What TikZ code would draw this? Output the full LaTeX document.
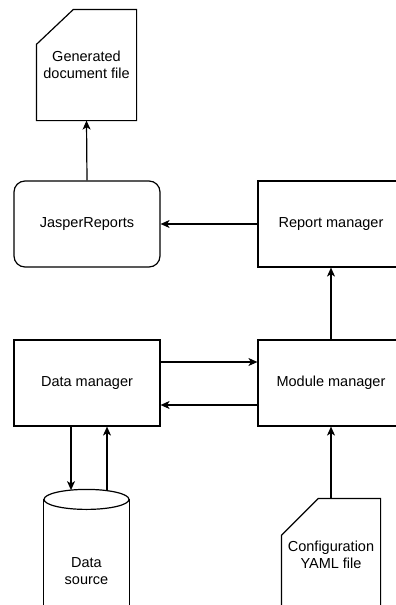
\documentclass[tikz,border=0pt]{standalone}
\usepackage{fontspec}
\setmainfont{Liberation Sans}
\usetikzlibrary{arrows.meta, calc}

\begin{document}
\begin{tikzpicture}[x=1pt, y=-1pt, line width=1.2pt,
  >={Stealth[length=9pt, width=8pt, inset=2.5pt]},
  lbl/.style={inner sep=0pt, align=center, font=\fontsize{14.5}{17}\selectfont},
  mgrbox/.style={lbl, draw, minimum width=146pt, minimum height=86pt},
  roundbox/.style={mgrbox, rounded corners=11pt},
  docshape/.style={lbl, minimum width=99pt, minimum height=110pt}]

  \useasboundingbox (0,0) rectangle (396,605);
  \clip (0,0) rectangle (396,605);

  % --- main boxes ---
  \node[roundbox] (jr) at (87,224) {JasperReports};
  \node[mgrbox] (rm) at (331,224) {Report manager};
  \node[mgrbox] (dm) at (87,383) {Data manager};
  \node[mgrbox] (mm) at (331,383) {Module manager};

  % --- generated document (card shape) ---
  \node[docshape] (doc) at (86.5,65) {Generated\\document file};
  \draw (doc.south west) -- (doc.south east) -- (doc.north east)
    -- ($(doc.north west)+(37,0)$) -- ($(doc.north west)+(0,35)$) -- cycle;

  % --- configuration file (card shape, cut off below) ---
  \node[lbl, minimum width=98pt, minimum height=112pt] (cfg) at (331,555)
    {Configuration\\YAML file};
  \draw (cfg.south west) -- ($(cfg.north west)+(0,37)$)
    -- ($(cfg.north west)+(37,0)$) -- (cfg.north east) -- (cfg.south east);

  % --- data source (cylinder, cut off below) ---
  \node[lbl, minimum width=85pt, minimum height=142pt] (src) at (86.5,571)
    {Data\\source};
  \draw (src.north) ellipse [x radius=42.5, y radius=10];
  \draw (src.north west) -- (src.south west);
  \draw (src.north east) -- (src.south east);
  \coordinate (srcin) at ($(src.north)+(-15.5,-9.3)$);
  \coordinate (srcout) at ($(src.north)+(20.5,-8.8)$);

  % --- connections ---
  \draw[->] (jr.north) -- (doc.south);
  \draw[->] (rm.west) -- (jr.east);
  \draw[->] (mm.north) -- (rm.south);
  \draw[->] ([yshift=21pt]dm.east) -- ([yshift=21pt]mm.west);
  \draw[->] ([yshift=-22pt]mm.west) -- ([yshift=-22pt]dm.east);
  \draw[->] (dm.south -| srcin) -- (srcin);
  \draw[->] (srcout) -- (dm.south -| srcout);
  \draw[->] (cfg.north) -- (mm.south);

\end{tikzpicture}
\end{document}
